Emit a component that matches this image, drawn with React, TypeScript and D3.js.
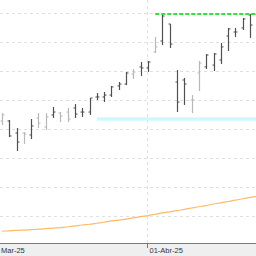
import React from 'react';
import * as d3 from 'd3';

// daily OHLC, one entry per trading day (4-Mar-25 .. 22-Abr-25)
const opens = [52.55, 52.55, 51.72, 51.72, 51.59, 52.76, 52.14, 52.97, 53.10, 53.17, 53.45, 53.17, 53.17, 54.21, 54.21, 54.34, 54.97, 55.10, 55.79, 56.28, 56.21, 57.31, 58.07, 59.24, 55.24, 55.38, 54.00, 55.86, 56.28, 56.41, 56.76, 58.41, 58.69, 58.97, 59.86];
const highs = [53.10, 52.62, 52.07, 51.79, 52.69, 53.10, 53.10, 53.52, 53.17, 53.45, 53.72, 53.45, 54.14, 54.48, 54.55, 54.97, 55.24, 55.93, 56.14, 56.62, 56.69, 58.34, 60.00, 59.24, 56.07, 55.52, 54.34, 56.69, 57.17, 57.24, 57.93, 58.97, 58.97, 59.66, 59.93];
const lows = [52.28, 51.45, 50.48, 50.97, 51.31, 52.07, 51.93, 52.76, 52.48, 52.48, 52.76, 52.83, 52.97, 54.00, 53.86, 54.21, 54.69, 55.03, 55.45, 55.66, 55.93, 57.24, 57.79, 57.59, 53.17, 53.66, 53.10, 54.62, 56.14, 56.00, 56.48, 57.38, 58.34, 58.83, 58.28];
const closes = [52.97, 51.52, 51.10, 51.66, 52.21, 52.41, 52.83, 53.17, 52.90, 52.69, 53.03, 53.17, 54.14, 54.21, 54.34, 54.90, 55.10, 55.86, 55.93, 56.21, 56.62, 57.66, 59.79, 57.86, 53.86, 55.10, 54.00, 56.55, 57.10, 57.17, 57.66, 58.90, 58.69, 59.59, 59.17];
// sessions drawn in the pale tone
const paleBars = [0, 3, 5, 6, 8, 9, 18, 21, 26, 27];

// long moving average (one extra point past the last visible bar)
const movingAvg = [44.95, 44.98, 45.01, 45.03, 45.06, 45.09, 45.13, 45.17, 45.20, 45.26, 45.32, 45.38, 45.43, 45.50, 45.57, 45.66, 45.72, 45.79, 45.87, 45.96, 46.03, 46.12, 46.21, 46.29, 46.37, 46.46, 46.55, 46.64, 46.72, 46.83, 46.91, 47.00, 47.09, 47.19, 47.28, 47.37];

const resistance = { level: 59.93, from: 21 };
const support = { level: 52.69, from: 13 };

const gridValues = [44, 46, 48, 50, 52, 54, 56, 58, 60];
const tickIndex = [-1, 20];
const tickLabels = ['Mar-25', '01-Abr-25'];

export default function App() {
  const width = 256;
  const height = 256;
  const plotBottom = 243;

  const x = d3.scaleLinear().domain([0, 34]).range([2, 250]);
  const y = d3.scaleLinear().domain([46, 60]).range([216, 13]);

  const maLine = d3.line<number>()
    .x((_, i) => x(i))
    .y(d => y(d))
    .curve(d3.curveMonotoneX);

  return (
    <svg width={width} height={height} style={{ position: 'fixed', left: 0, top: 0, background: '#fff' }}
      fontFamily="'Liberation Sans', Arial, sans-serif">
      {gridValues.map(v => (
        <line key={v} x1={0} x2={width} y1={Math.round(y(v)) + 0.5} y2={Math.round(y(v)) + 0.5}
          stroke="#e0e0e0" strokeDasharray="3,3" />
      ))}
      {tickIndex.filter(i => i >= 0).map(i => (
        <line key={i} x1={Math.round(x(i)) - 0.5} x2={Math.round(x(i)) - 0.5} y1={0} y2={plotBottom}
          stroke="#e0e0e0" strokeDasharray="3,3" />
      ))}

      <path d={maLine(movingAvg) || ''} fill="none" stroke="#ffbb66" strokeWidth={1.2} />

      <line x1={x(support.from)} x2={width} y1={y(support.level)} y2={y(support.level)}
        stroke="#ccf8ff" strokeWidth={3.5} />

      {opens.map((o, i) => {
        const cx = Math.round(x(i)) + 0.5;
        const col = paleBars.includes(i) ? '#b8b8b8' : '#505050';
        return (
          <g key={i} stroke={col}>
            <line x1={cx} x2={cx} y1={y(highs[i])} y2={y(lows[i])} strokeWidth={1.2} />
            <line x1={cx - 2} x2={cx} y1={y(o)} y2={y(o)} strokeWidth={1} />
            <line x1={cx} x2={cx + 2} y1={y(closes[i])} y2={y(closes[i])} strokeWidth={1} />
          </g>
        );
      })}

      <line x1={x(resistance.from)} x2={width} y1={y(resistance.level)} y2={y(resistance.level)}
        stroke="#2ee63a" strokeWidth={2} strokeDasharray="4,2" />

      <rect x={0} y={plotBottom} width={width} height={height - plotBottom} fill="#efefef" />
      <line x1={0} x2={width} y1={plotBottom + 0.5} y2={plotBottom + 0.5} stroke="#7a7a7a" />
      {tickIndex.map((i, k) => {
        const tx = Math.round(x(i)) - 0.5;
        return (
          <g key={k}>
            {i >= 0 && <line x1={tx} x2={tx} y1={plotBottom} y2={plotBottom + 5} stroke="#7a7a7a" />}
            <text x={Math.max(tx + 2, 1)} y={253} fontSize={7.5} fill="#333">{tickLabels[k]}</text>
          </g>
        );
      })}
    </svg>
  );
}
